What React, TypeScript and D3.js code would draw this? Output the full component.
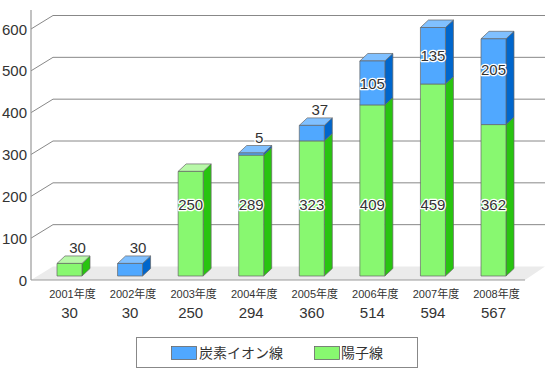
import React from 'react';
import * as d3 from 'd3';

const years = ['2001年度', '2002年度', '2003年度', '2004年度', '2005年度', '2006年度', '2007年度', '2008年度'];
const proton = [30, 0, 250, 289, 323, 409, 459, 362];
const carbon = [0, 30, 0, 5, 37, 105, 135, 205];
const totals = [30, 30, 250, 294, 360, 514, 594, 567];
const carbonLabelAt = [0, 0, 0, 0, 0, 461, 528, 493];
const yTicks = [0, 100, 200, 300, 400, 500, 600];
const seriesNames = ['炭素イオン線', '陽子線'];

const FONT = "'Liberation Sans', Arial, 'Noto Sans CJK JP', sans-serif";
const GREEN = { front: '#88f870', side: '#28c410', top: '#b8f8a8' };
const BLUE = { front: '#50a8ff', side: '#0066cc', top: '#80c0ff' };
const DX = 8;
const DY = -7.5;
const BW = 25;
const NUM = 15;

export default function App() {
  const yBar = d3.scaleLinear().domain([0, 600]).range([276, 25]);
  const yGrid = d3.scaleLinear().domain([0, 600]).range([280, 29]);
  const x = d3.scalePoint<string>().domain(years).range([69.5, 493.5]);
  const axisX = 31;
  const backX0 = 53;
  const backX1 = 545;
  const backDY = -13.5;

  const box = (cx: number, v0: number, v1: number, c: typeof GREEN, showTop: boolean, key: string) => {
    const l = cx - BW / 2;
    const r = cx + BW / 2;
    const yb = yBar(v0);
    const yt = yBar(v1);
    const front = `M${l},${yt}L${r},${yt}L${r},${yb}L${l},${yb}Z`;
    const side = `M${r},${yt}L${r + DX},${yt + DY}L${r + DX},${yb + DY}L${r},${yb}Z`;
    const top = `M${l},${yt}L${l + DX},${yt + DY}L${r + DX},${yt + DY}L${r},${yt}Z`;
    return (
      <g key={key}>
        <path d={side} fill={c.side} stroke="#666" strokeWidth={0.7} />
        {showTop && <path d={top} fill={c.top} stroke="#666" strokeWidth={0.7} />}
        <path d={front} fill={c.front} stroke="#666" strokeWidth={0.7} />
      </g>
    );
  };

  const haloText = (tx: number, ty: number, s: string, key: string) => (
    <text key={key} x={tx} y={ty} textAnchor="middle" dominantBaseline="central" fontSize={NUM}
      fontFamily={FONT} fill="#333" stroke="#fff" strokeWidth={2.5} paintOrder="stroke" strokeLinejoin="round">{s}</text>
  );

  return (
    <svg width={550} height={370} style={{ position: 'absolute', left: 0, top: 0, display: 'block' }}>
      <rect x={0} y={0} width={550} height={370} fill="#fff" />
      <path d={`M${axisX},${yGrid(0)}L${backX0},${yGrid(0) + backDY}L${backX1},${yGrid(0) + backDY}L${backX1 - 20},${yGrid(0)}Z`} fill="#ebebeb" />
      {yTicks.filter(t => t > 0).map(t => (
        <g key={t}>
          <line x1={axisX} y1={yGrid(t)} x2={backX0} y2={yGrid(t) + backDY} stroke="#888" strokeWidth={1} />
          <line x1={backX0} y1={yGrid(t) + backDY} x2={backX1} y2={yGrid(t) + backDY} stroke="#888" strokeWidth={1} />
        </g>
      ))}
      <line x1={axisX} y1={10} x2={axisX} y2={yGrid(0)} stroke="#999" strokeWidth={1.2} />
      <line x1={axisX} y1={yGrid(0)} x2={backX1 - 20} y2={yGrid(0)} stroke="#999" strokeWidth={1.2} />
      {yTicks.map(t => (
        <text key={t} x={27} y={yGrid(t)} textAnchor="end" dominantBaseline="central" fontSize={NUM} fontFamily={FONT} fill="#333">{t}</text>
      ))}
      {years.map((yr, i) => {
        const cx = x(yr)!;
        const p = proton[i];
        const c = carbon[i];
        return (
          <g key={yr}>
            {p > 0 && box(cx, 0, p, GREEN, c === 0, 'p')}
            {c > 0 && box(cx, p, p + c, BLUE, true, 'c')}
          </g>
        );
      })}
      {years.map((yr, i) => {
        const cx = x(yr)!;
        const p = proton[i];
        const c = carbon[i];
        const out: React.ReactNode[] = [];
        const topY = yBar(p + c) + DY - 8;
        if (p > 0) {
          if (p < 50) out.push(haloText(cx + DX, topY, String(p), 'pl'));
          else out.push(haloText(cx, yBar(170), String(p), 'pl'));
        }
        if (c > 0) {
          if (c < 50) out.push(haloText(cx + DX, topY, String(c), 'cl'));
          else out.push(haloText(cx, yBar(carbonLabelAt[i]), String(c), 'cl'));
        }
        return <g key={yr}>{out}</g>;
      })}
      {years.map((yr, i) => (
        <g key={yr}>
          <text x={x(yr)! + 3} y={294} textAnchor="middle" dominantBaseline="central" fontSize={11} fontFamily={FONT} fill="#333">{yr}</text>
          <text x={x(yr)!} y={312} textAnchor="middle" dominantBaseline="central" fontSize={NUM} fontFamily={FONT} fill="#333">{totals[i]}</text>
        </g>
      ))}
      <rect x={136.5} y={337.5} width={281} height={30} fill="#fff" stroke="#888" strokeWidth={1} />
      <rect x={171.5} y={346.5} width={25} height={13} fill={BLUE.front} stroke="#666" strokeWidth={0.8} />
      <text x={199} y={353} dominantBaseline="central" fontSize={14} fontFamily={FONT} fill="#333">{seriesNames[0]}</text>
      <rect x={314.5} y={346.5} width={25} height={13} fill={GREEN.front} stroke="#666" strokeWidth={0.8} />
      <text x={341} y={353} dominantBaseline="central" fontSize={14} fontFamily={FONT} fill="#333">{seriesNames[1]}</text>
    </svg>
  );
}
